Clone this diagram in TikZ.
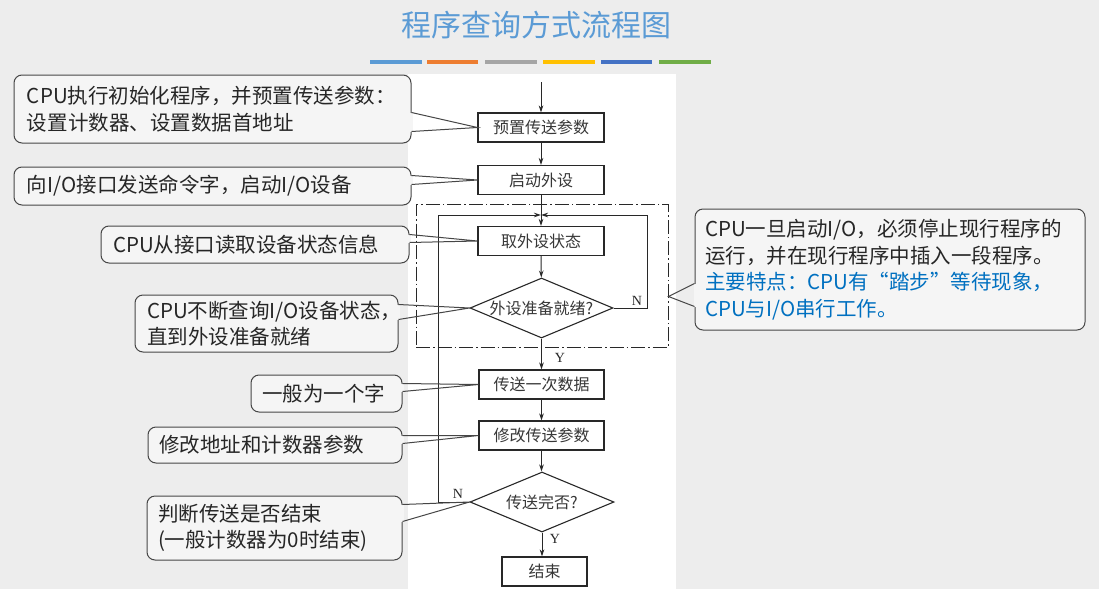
\documentclass[tikz,border=0pt]{standalone}
\usepackage{fontspec}
\setmainfont{Liberation Serif}
\newfontfamily\cjk{Noto Sans CJK SC}
\usetikzlibrary{arrows.meta,shapes.geometric,calc}
\definecolor{bg}{RGB}{237,237,237}
\definecolor{cfill}{RGB}{245,245,245}
\definecolor{cline}{RGB}{70,70,70}
\definecolor{fline}{RGB}{40,40,40}
\definecolor{ftext}{RGB}{55,55,55}
\definecolor{titleblue}{RGB}{91,155,213}
\definecolor{noteblue}{RGB}{0,112,192}
\definecolor{barA}{RGB}{91,155,213}
\definecolor{barB}{RGB}{237,125,49}
\definecolor{barC}{RGB}{165,165,165}
\definecolor{barD}{RGB}{255,192,0}
\definecolor{barE}{RGB}{68,114,196}
\definecolor{barF}{RGB}{112,173,71}
\newcommand\mywedgeR[4]{%
  \fill[cfill] ([yshift=-#2pt,xshift=-1.5pt]#1.north east) -- ([yshift=-#2pt,xshift=1pt]#1.north east) -- ([yshift=-#3pt,xshift=1pt]#1.north east) -- ([yshift=-#3pt,xshift=-1.5pt]#1.north east) -- cycle;
  \draw[wline] ([yshift=-#2pt]#1.north east) -- (#4) -- ([yshift=-#3pt]#1.north east);}
\newcommand\mywedgeL[4]{%
  \fill[cfill] ([yshift=-#2pt,xshift=1.5pt]#1.north west) -- ([yshift=-#2pt,xshift=-1pt]#1.north west) -- ([yshift=-#3pt,xshift=-1pt]#1.north west) -- ([yshift=-#3pt,xshift=1.5pt]#1.north west) -- cycle;
  \draw[wline] ([yshift=-#2pt]#1.north west) -- (#4) -- ([yshift=-#3pt]#1.north west);}
\begin{document}
\begin{tikzpicture}[x=1pt,y=-1pt,
  callout/.style={draw=cline, fill=cfill, line width=1pt, rounded corners=8pt, inner sep=0pt, align=left, font=\cjk\fontsize{20.5}{26.5}\selectfont, text=black!85},
  wline/.style={draw=cline, line width=1pt},
  fbox/.style={draw=fline, line width=1.1pt, minimum width=126pt, minimum height=29pt, inner sep=0pt, font=\cjk\fontsize{16}{18}\selectfont, text=ftext},
  fdia/.style={draw=fline, line width=1.1pt, diamond, aspect=2.4, inner sep=0pt, minimum width=143pt, minimum height=60pt, font=\cjk\fontsize{16}{18}\selectfont, text=ftext},
  arr/.style={draw=fline, line width=1pt, -{Stealth[length=7pt,width=4.5pt]}},
  lbl/.style={font=\fontsize{14}{14}\selectfont, text=fline, inner sep=0pt},
  bar/.style={line width=0pt}]
\useasboundingbox (0,0) rectangle (1099,589);
\fill[bg] (0,0) rectangle (1099,589);
\fill[white] (408,74) rectangle (676,589);

% title and bars
\node[font=\cjk\fontsize{30}{32}\selectfont, text=titleblue] (title) at (536,25) {程序查询方式流程图};
\fill[barA] (370,60) rectangle (422,64);
\fill[barB] (427,60) rectangle (478,64);
\fill[barC] (485,60) rectangle (537,64);
\fill[barD] (543,60) rectangle (595,64);
\fill[barE] (601,60) rectangle (652,64);
\fill[barF] (659,60) rectangle (711,64);

% flowchart
\node[draw=fline, line width=0.9pt, dash pattern=on 14pt off 3pt on 1.5pt off 3pt, minimum width=252pt, minimum height=143pt, inner sep=0pt] (frame) at (542,275.5) {};
\coordinate (top) at (541,82);
\node[fbox] (b1) at (541,127.5) {预置传送参数};
\node[fbox] (b2) at (541,180) {启动外设};
\node[fbox] (b3) at (541,241) {取外设状态};
\node[fdia] (d1) at (541.5,308) {外设准备就绪?};
\node[fbox, minimum width=125pt] (b4) at (541.5,384.5) {传送一次数据};
\node[fbox, minimum width=125pt] (b5) at (541.5,435.5) {修改传送参数};
\node[fdia, minimum width=144pt] (d2) at (542,502) {传送完否?};
\node[fbox, minimum width=85pt] (e) at (544.5,571.5) {结束};
\coordinate (j) at (541,215);
\coordinate (lc) at (438,215);
\coordinate (rc) at (647,215);

\draw[arr] (top) -- (b1);
\draw[arr] (b1) -- (b2);
\draw[arr] (b2) -- (b3);
\draw[arr] (b3) -- (d1);
\draw[arr] (d1.south) -- (d1.south |- b4.north);
\draw[arr] (b4) -- (b5);
\draw[arr] (b5.south) -- (b5.south |- d2.north);
\draw[arr] (d2.south) -- (d2.south |- e.north);
\draw[arr] (d1.east) -| (rc) -- (j);
\draw[arr] (d2.west) -| (lc) -- (j);
\node[lbl] (n1) at (637,301) {N};
\node[lbl] (y1) at (560,358) {Y};
\node[lbl] (n2) at (458,494) {N};
\node[lbl] (y2) at (555,539) {Y};

% callouts
\node[callout, minimum width=397pt, minimum height=68pt, text width=371pt] (c1) at (212.5,109) {CPU执行初始化程序，并预置传送参数：\\设置计数器、设置数据首地址};
\node[callout, minimum width=397pt, minimum height=38pt, text width=371pt] (c2) at (212.5,186) {向I/O接口发送命令字，启动I/O设备};
\node[callout, minimum width=308pt, minimum height=37pt, text width=284pt] (c3) at (255,244.5) {CPU从接口读取设备状态信息};
\node[callout, minimum width=263pt, minimum height=57pt, text width=239pt] (c4) at (266.5,323.5) {CPU不断查询I/O设备状态，\\直到外设准备就绪};
\node[callout, minimum width=151pt, minimum height=37pt, text width=129pt] (c5) at (326.5,393.5) {一般为一个字};
\node[callout, minimum width=254pt, minimum height=36pt, text width=232pt] (c6) at (275,445) {修改地址和计数器参数};
\node[callout, minimum width=255pt, minimum height=64pt, text width=233pt] (c7) at (274.5,528) {判断传送是否结束\\(一般计数器为0时结束)};
\node[callout, minimum width=390pt, minimum height=121pt, text width=370pt] (c8) at (890,269.5) {CPU一旦启动I/O，必须停止现行程序的\\运行，并在现行程序中插入一段程序。\\\textcolor{noteblue}{主要特点：CPU有“踏步”等待现象，}\\\textcolor{noteblue}{CPU与I/O串行工作。}};

\mywedgeR{c1}{38}{57}{b1.west}
\mywedgeR{c2}{9}{18}{b2.west}
\mywedgeR{c3}{9}{17}{b3.west}
\mywedgeR{c4}{10}{25}{d1.west}
\mywedgeR{c5}{9}{17}{b4.west}
\mywedgeR{c6}{9}{17}{b5.west}
\mywedgeR{c7}{9}{26}{d2.west}
\coordinate (tip8) at ([yshift=-21pt]frame.east);
\mywedgeL{c8}{75}{98}{tip8}
\end{tikzpicture}
\end{document}
